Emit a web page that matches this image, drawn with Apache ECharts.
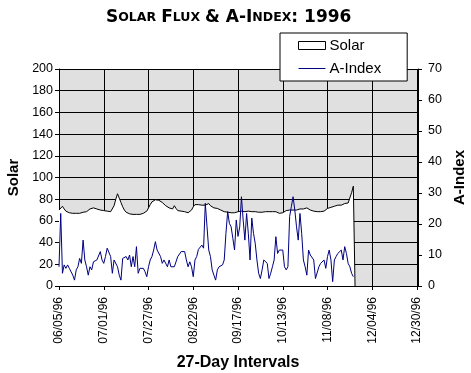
<!DOCTYPE html>
<html>
<head>
<meta charset="utf-8">
<script src="https://cdn.jsdelivr.net/npm/echarts@6/dist/echarts.min.js"></script>
<style>html,body{margin:0;padding:0;background:#fff}#c{width:471px;height:373px}</style>
</head>
<body>
<div id="c"></div>
<script>
// ---- data ----
const startDate = '1996-06-05';
const dayCount = 209; // 06/05/96 .. 12/30/96
const solarValues = [
 70,71,73.5,71,69,68,67.5,67,67,67,
 67,67.5,67,67.5,68,68.5,68.5,69,71,72,
 72,71.5,71,70,70,70,69.5,69.5,69,69,
 68.5,68,74,80,85,81,77,73,70,68,
 67,66.5,66,66,65.5,66,65.5,66,66,67,
 67,69,72,75,77.5,79,79.5,79,79,78,
 77,75.5,74,73,72,70.5,71,74,71.5,69.5,
 69.5,69,69,68.5,68,67.5,68,70,73,75,
 75.5,75,75,74.5,74,74.5,75.5,76,74,72.5,
 72,72,71.5,71,70,69,68.5,68,68,67.5,
 67.5,67,67.5,67,68.5,70,69,69.5,68.5,69.5,
 69,68.5,68.5,69,68.5,69,68,68.5,68,69,
 68.5,68,68.5,68,68.5,68,68.5,68,67,67,
 67.5,68.5,69.5,70,70,69.5,70,70.5,70,70.5,
 71,72,71,71.5,72,71,70,69.5,69,68.5,
 68.5,68,68.5,68,69,70,71.5,72,72.5,73,
 73.5,74,74.5,75,74.5,75.5,76,75.5,76.5,78,
 86,92,0
];
const aIndexValues = [
 6.2,23.4,4.1,6.8,5.7,6.8,5.7,6.2,3.5,1.9,
 5.2,6.2,8.9,7.3,14.8,8.4,6.2,3.5,6.2,5.2,
 7.8,7.3,8.4,8.4,11.1,8.4,7.3,9.5,12.2,12.7,
 9.5,4.1,8.4,8.9,6.2,3.5,1.9,8.9,8.4,9.5,
 8.4,10,6.2,9.5,6.2,12.7,4.1,5.7,5.2,5.7,
 4.6,3,6.2,8.4,9.5,11.6,14.3,11.6,11.1,9.5,
 7.3,8.4,7.8,6.2,8.4,6.2,6.8,6.2,6.8,9.5,
 10,11.1,10.5,11.1,8.4,6.2,7.8,6.2,3,8.4,
 9.5,11.8,11.6,13.2,12.2,26.7,19.1,11.6,9.5,5.2,
 3.5,1.9,5.2,6.2,5.7,6.8,8.4,17,24,20.2,
 19.1,15.4,11.6,21.3,16,19.1,28.8,21.3,14.8,23.4,
 17,8.4,21.9,17,13.8,8.4,4.1,2.4,5.2,8.4,
 8.9,7.3,2.4,4.1,6.2,8.4,15.9,10.5,11.6,12.2,
 11.6,6.2,5.2,6.2,22.4,25.6,28.8,24.5,19.1,14.8,
 23.4,17,8.4,6.2,3.5,11.6,10,9.5,8.4,2.4,
 3,6.2,7.3,6.8,8.4,5.7,9.5,11.6,8.4,1.4,
 8.4,9.5,10.5,10,11.6,8.4,12.7,10.5,7.3,6.2,
 4.1,3
];
const tickLabels = ['06/05/96','07/01/96','07/27/96','08/22/96','09/17/96','10/13/96','11/08/96','12/04/96','12/30/96'];
const solarTicks = [0,200,20];
const aIndexTicks = [0,70,10];

// categories (daily dates)
const categories = [];
{
  const d0 = new Date(startDate + 'T00:00:00Z');
  for (let i = 0; i < dayCount; i++) {
    const d = new Date(d0.getTime() + i * 86400000);
    const mm = String(d.getUTCMonth() + 1).padStart(2, '0');
    const dd = String(d.getUTCDate()).padStart(2, '0');
    const yy = String(d.getUTCFullYear()).slice(2);
    categories.push(mm + '/' + dd + '/' + yy);
  }
}
const pad = (arr) => arr.concat(new Array(dayCount - arr.length).fill(null));

const FONT = 'Liberation Sans';
const chart = echarts.init(document.getElementById('c'), null, {renderer: 'canvas'});
chart.setOption({
  animation: false,
  backgroundColor: '#ffffff',
  title: {
    text: '{b|S}{s|OLAR} {b|F}{s|LUX} {b|& A-I}{s|NDEX}{b|: 1996}',
    left: 101, top: 4,
    textStyle: {
      rich: {
        b: {fontFamily: 'DejaVu Sans', fontWeight: 'bold', fontSize: 17, color: '#000'},
        s: {fontFamily: 'DejaVu Sans', fontWeight: 'bold', fontSize: 12.5, color: '#000'}
      }
    }
  },
  legend: {
    left: 280, top: 33,
    orient: 'vertical',
    padding: [5, 26, 5, 18],
    itemGap: 8,
    itemWidth: 27, itemHeight: 8,
    backgroundColor: '#ffffff',
    borderColor: '#000', borderWidth: 1,
    borderRadius: 0,
    symbolKeepAspect: true,
    textStyle: {fontFamily: FONT, fontSize: 15, color: '#000', padding: [0,0,0,-1]},
    data: [
      {name: 'Solar', icon: 'rect', itemStyle: {color: '#fff', borderColor: '#000', borderWidth: 1}},
      {name: 'A-Index', icon: 'path://M0,0 H27 V1 H0 Z', itemStyle: {color: '#000080', borderWidth: 0}}
    ]
  },
  grid: {
    left: 59, right: 54, top: 69, bottom: 87,
    containLabel: false, outerBoundsMode: 'none',
    show: true, backgroundColor: '#e0e0e0', borderWidth: 0
  },
  xAxis: {
    type: 'category',
    data: categories,
    boundaryGap: false,
    name: '27-Day Intervals',
    nameLocation: 'middle',
    nameGap: 69,
    nameTextStyle: {fontFamily: FONT, fontWeight: 'bold', fontSize: 16, color: '#000'},
    axisLine: {lineStyle: {color: '#000', width: 1}},
    axisTick: {interval: 25, length: 4, lineStyle: {color: '#000'}},
    axisLabel: {
      interval: 25, rotate: 90, margin: 11,
      fontFamily: FONT, fontSize: 12, color: '#000',
      formatter: (v) => tickLabels.indexOf(v) >= 0 ? v : ''
    },
    splitLine: {show: true, interval: 25, lineStyle: {color: '#000', width: 1}}
  },
  yAxis: [
    {
      type: 'value', min: solarTicks[0], max: solarTicks[1], interval: solarTicks[2],
      name: 'Solar', nameLocation: 'middle', nameGap: 33, nameRotate: 90,
      nameTextStyle: {fontFamily: FONT, fontWeight: 'bold', fontSize: 15, color: '#000'},
      axisLine: {show: true, lineStyle: {color: '#000'}},
      axisTick: {show: true, length: 4, lineStyle: {color: '#000'}},
      axisLabel: {fontFamily: FONT, fontSize: 12.5, color: '#000', margin: 6},
      splitLine: {show: true, lineStyle: {color: '#000', width: 1}}
    },
    {
      type: 'value', min: aIndexTicks[0], max: aIndexTicks[1], interval: aIndexTicks[2],
      position: 'right', offset: 1,
      name: 'A-Index', nameLocation: 'middle', nameGap: 34, nameRotate: 90,
      nameTextStyle: {fontFamily: FONT, fontWeight: 'bold', fontSize: 15, color: '#000'},
      axisLine: {show: true, lineStyle: {color: '#000'}},
      axisTick: {show: true, length: 4, lineStyle: {color: '#000'}},
      axisLabel: {fontFamily: FONT, fontSize: 12.5, color: '#000', margin: 10},
      splitLine: {show: false}
    }
  ],
  series: [
    {
      name: 'Solar', type: 'line', yAxisIndex: 0,
      data: pad(solarValues),
      showSymbol: false, symbol: 'none',
      lineStyle: {color: '#000', width: 1},
      itemStyle: {color: '#fff'},
      areaStyle: {color: '#ffffff', opacity: 1},
      z: 2
    },
    {
      name: 'A-Index', type: 'line', yAxisIndex: 1,
      data: pad(aIndexValues),
      showSymbol: false, symbol: 'none',
      lineStyle: {color: '#000080', width: 1},
      itemStyle: {color: '#000080'},
      z: 3
    }
  ]
});
</script>
</body>
</html>
